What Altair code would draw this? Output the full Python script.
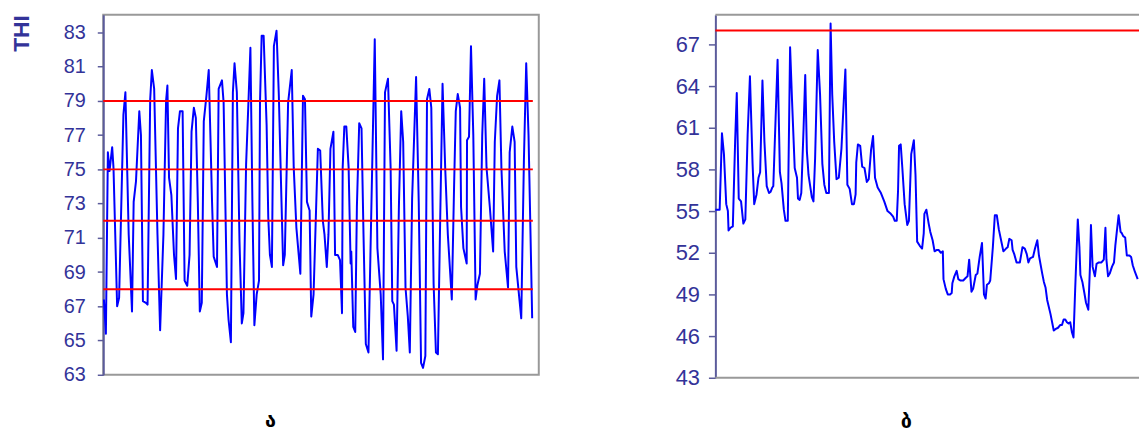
import altair as alt
import pandas as pd

# ---------------- data ----------------
# Panel "ა": THI time series (t = observation time index), thresholds
left_t = [2, 8, 14, 19, 27, 31, 42, 48, 61, 67,
          77, 87, 92, 99, 109, 114, 120, 129, 134, 142,
          147, 154, 164, 172, 182, 190, 194, 199, 206, 214,
          220, 226, 232, 240, 246, 254, 261, 267, 274, 280,
          286, 292, 298, 304, 312, 319, 324, 329, 334, 344,
          349, 359, 364, 374, 379, 386, 392, 397, 404, 412,
          419, 424, 432, 439, 445, 451, 457, 464, 471, 474,
          479, 485, 494, 499, 504, 510, 516, 524, 531, 539,
          544, 549, 559, 570, 576, 584, 596, 604, 610, 616,
          624, 629, 636, 649, 656, 664, 669, 676, 681, 687,
          696, 701, 709, 716, 722, 724, 729, 735, 742, 748,
          750, 756, 762, 767, 774, 781, 787, 794, 802, 821,
          829, 839, 846, 852, 861, 869, 874, 879, 887, 894,
          901, 907, 914, 921, 927, 934, 946, 954, 961, 967,
          974, 979, 986, 992, 999, 1006, 1012, 1019, 1026, 1034,
          1042, 1054, 1061, 1066, 1072, 1079, 1082, 1089, 1099, 1100,
          1106, 1112, 1119, 1126, 1131, 1139, 1146, 1152, 1159, 1169,
          1179, 1184, 1191, 1198, 1204, 1214, 1224, 1229, 1237, 1244,
          1249, 1259, 1264, 1272, 1279, 1286, 1292, 1297]
left_thi = [67.4, 65.4, 76.0, 74.9, 76.3, 75.1, 67.0, 67.5, 78.2, 79.5,
            71.2, 66.7, 73.1, 74.3, 78.4, 77.0, 67.3, 67.2, 67.1, 79.1,
            80.8, 79.7, 71.2, 65.6, 71.2, 79.0, 79.9, 74.5, 73.5, 70.0,
            68.6, 77.4, 78.4, 78.4, 68.5, 68.2, 70.0, 77.2, 78.6, 78.0,
            73.1, 66.7, 67.2, 77.8, 79.3, 80.8, 77.0, 73.1, 69.9, 69.3,
            79.7, 80.2, 78.9, 67.7, 66.2, 64.9, 79.5, 81.2, 79.5, 70.8,
            66.0, 66.6, 75.3, 78.9, 82.1, 73.1, 65.9, 67.7, 68.5, 78.9,
            82.8, 82.8, 77.6, 72.2, 70.0, 69.3, 82.2, 83.1, 79.3, 73.1,
            69.4, 70.0, 78.9, 80.8, 75.1, 71.6, 68.9, 79.3, 79.1, 73.1,
            72.6, 66.4, 67.7, 76.2, 76.1, 72.0, 71.2, 69.3, 71.2, 76.2,
            77.2, 70.0, 70.0, 69.7, 66.6, 75.1, 77.5, 77.5, 75.1, 69.5,
            70.2, 65.8, 65.5, 72.8, 77.7, 77.4, 71.2, 64.8, 64.3, 82.6,
            70.4, 67.7, 63.9, 79.5, 80.3, 75.1, 67.3, 67.1, 64.4, 72.8,
            78.4, 76.6, 68.1, 66.4, 64.3, 73.3, 80.4, 73.1, 63.7, 63.4,
            64.1, 79.1, 79.7, 78.6, 68.3, 64.3, 64.2, 72.2, 80.0, 75.1,
            71.2, 67.4, 74.1, 78.4, 79.4, 78.6, 72.8, 70.4, 69.5, 76.7,
            76.9, 82.2, 77.0, 67.4, 68.2, 68.9, 77.0, 80.3, 75.1, 72.8,
            70.2, 76.6, 79.3, 80.2, 75.1, 70.2, 68.1, 76.0, 77.5, 76.6,
            69.3, 67.3, 66.3, 75.5, 81.2, 77.0, 71.2, 66.3]
left_thresholds = [68, 72, 75, 79]
left_ticks = [63, 65, 67, 69, 71, 73, 75, 77, 79, 81, 83]

# Panel "ბ"
right_t = [0, 8, 13, 20, 26, 33, 38, 40, 46, 53,
           60, 65, 71, 78, 85, 91, 98, 105, 113, 118,
           125, 131, 136, 143, 149, 156, 163, 168, 173, 176,
           183, 189, 196, 201, 208, 213, 220, 227, 233, 241,
           248, 251, 256, 261, 268, 273, 278, 283, 293, 298,
           303, 311, 318, 325, 331, 337, 345, 350, 355, 361,
           368, 375, 383, 390, 395, 401, 408, 415, 421, 426,
           428, 433, 440, 446, 453, 460, 466, 473, 479, 485,
           493, 503, 513, 523, 533, 540, 545, 551, 555, 558,
           563, 568, 575, 583, 588, 595, 603, 608, 613, 621,
           628, 633, 635, 641, 648, 653, 660, 666, 673, 678,
           685, 691, 693, 700, 706, 713, 718, 720, 726, 733,
           738, 745, 753, 761, 766, 771, 778, 783, 791, 796,
           803, 810, 816, 821, 825, 831, 835, 843, 849, 855,
           861, 868, 875, 883, 888, 893, 900, 903, 908, 915,
           925, 933, 940, 946, 951, 956, 965, 971, 978, 983,
           993, 998, 1003, 1008, 1018, 1028, 1033, 1041, 1048, 1053,
           1058, 1063, 1068, 1073, 1078, 1083, 1088, 1093, 1101, 1106,
           1109, 1115, 1121, 1126, 1133, 1138, 1141, 1146, 1153, 1158,
           1165, 1173, 1180, 1185, 1188, 1193, 1198, 1205, 1211, 1215,
           1219, 1225, 1231, 1235, 1239, 1245, 1250, 1258, 1263, 1268,
           1275, 1283]
right_thi = [55.1, 55.1, 55.1, 60.6, 59.1, 55.5, 55.0, 53.6, 53.8, 53.9,
             60.0, 63.5, 55.9, 55.7, 54.1, 54.4, 60.5, 64.7, 58.4, 55.5,
             56.2, 57.4, 57.8, 64.4, 60.0, 56.8, 56.3, 56.4, 56.7, 56.8,
             61.7, 65.9, 57.8, 57.0, 55.1, 54.3, 54.3, 66.8, 62.9, 58.1,
             57.4, 55.9, 55.8, 56.3, 61.0, 64.8, 59.3, 57.6, 56.0, 55.7,
             58.8, 66.6, 63.4, 58.4, 56.9, 56.3, 56.3, 68.5, 63.4, 60.0,
             57.3, 57.4, 59.5, 62.9, 65.2, 56.9, 56.6, 55.5, 55.5, 56.2,
             58.5, 59.8, 59.7, 58.2, 58.1, 57.1, 57.3, 59.4, 60.4, 57.4,
             56.7, 56.3, 55.7, 55.0, 54.8, 54.6, 54.3, 54.3, 56.5, 59.7,
             59.8, 58.1, 55.5, 54.0, 54.3, 59.1, 60.1, 57.6, 52.8, 52.5,
             52.3, 53.4, 54.8, 55.1, 54.1, 53.5, 52.9, 52.1, 52.2, 52.2,
             52.0, 52.1, 50.1, 49.4, 49.0, 49.0, 49.1, 49.8, 50.3, 50.7,
             50.1, 50.0, 50.0, 50.2, 50.3, 51.5, 49.2, 49.4, 50.4, 50.5,
             51.7, 52.7, 49.0, 48.7, 49.7, 49.8, 50.0, 52.4, 54.7, 54.7,
             53.7, 52.9, 52.1, 52.3, 52.4, 53.0, 52.9, 52.2, 51.9, 51.3,
             51.3, 52.4, 52.3, 51.9, 51.3, 51.6, 51.7, 52.3, 52.9, 51.8,
             50.5, 49.9, 49.5, 48.6, 47.6, 46.4, 46.5, 46.6, 46.8, 46.8,
             47.2, 47.2, 47.0, 46.9, 47.0, 46.3, 45.9, 49.3, 54.4, 52.4,
             50.4, 49.9, 49.1, 48.4, 47.9, 51.0, 54.0, 51.0, 50.3, 51.2,
             51.3, 51.3, 51.5, 53.8, 51.5, 50.3, 50.5, 51.0, 51.3, 52.5,
             53.4, 54.7, 53.5, 53.4, 53.2, 53.1, 51.8, 51.8, 51.7, 51.1,
             50.6, 50.1]
right_thresholds = [68]
right_ticks = [43, 46, 49, 52, 55, 58, 61, 64, 67]

panel_labels = ["ა", "ბ"]

assert len(left_t) == len(left_thi)
assert len(right_t) == len(right_thi)

# ---------------- styles ----------------
NAVY = "#333399"
AXIS_LINE = "#5b5b9b"
BORDER = "#999999"
BLUE = "#0000ff"
RED = "#ff0000"
FONT = "Liberation Sans"

LW, LH = 439, 363
RW, RH = 427, 366

left_df = pd.DataFrame({"t": left_t, "thi": left_thi})
right_df = pd.DataFrame({"t": right_t, "thi": right_thi})
left_thr = pd.DataFrame({"thi": left_thresholds})
right_thr = pd.DataFrame({"thi": right_thresholds})
one = pd.DataFrame({"k": [0]})


def y_axis(ticks, label_size, tick_size, label_pad, title=None):
    kw = dict(values=ticks, grid=False, domainColor=AXIS_LINE, domainWidth=2,
              tickColor=AXIS_LINE, tickWidth=1.5, tickSize=tick_size,
              labelFont=FONT, labelFontSize=label_size, labelColor=NAVY,
              labelPadding=label_pad, labelOverlap=False, labelBound=False)
    if title:
        kw.update(title=title, titleFont=FONT, titleFontSize=23,
                  titleFontWeight="bold", titleColor=NAVY, titleAnchor="end",
                  titlePadding=30)
    else:
        kw.update(title=None)
    return alt.Axis(**kw)


def bottom_title(text, dx, offset):
    return alt.TitleParams(text=text, orient="bottom", anchor="middle",
                           frame="group", dx=dx, offset=offset,
                           baseline="alphabetic", font="DejaVu Sans",
                           fontSize=20, fontWeight="bold", color="black")


# ----- left panel -----
left_axis = y_axis(left_ticks, 20, 6, 12, "THI")
lx = alt.X("t:Q", scale=alt.Scale(domain=[0, 1317], nice=False, zero=False), axis=None)
lys = alt.Scale(domain=[63, 84.04], nice=False, zero=False)
left_line = alt.Chart(left_df).mark_line(color=BLUE, strokeWidth=2, strokeJoin="round").encode(
    x=lx, y=alt.Y("thi:Q", scale=lys, axis=left_axis))
left_rules = alt.Chart(left_thr).mark_rule(color=RED, strokeWidth=2).encode(
    y=alt.Y("thi:Q", scale=lys, axis=left_axis), x=alt.value(0), x2=alt.value(433))
left = alt.layer(left_line, left_rules).properties(
    width=LW, height=LH, title=bottom_title(panel_labels[0], -51, 43))

# ----- right panel -----
right_axis = y_axis(right_ticks, 22, 7, 9)
rx = alt.X("t:Q", scale=alt.Scale(domain=[0, 1287], nice=False, zero=False), axis=None)
rys = alt.Scale(domain=[43, 69.143], nice=False, zero=False)
right_line = alt.Chart(right_df).mark_line(color=BLUE, strokeWidth=2, strokeJoin="round").encode(
    x=rx, y=alt.Y("thi:Q", scale=rys, axis=right_axis))
right_rules = alt.Chart(right_thr).mark_rule(color=RED, strokeWidth=2).encode(
    y=alt.Y("thi:Q", scale=rys, axis=right_axis), x=alt.value(0), x2=alt.value(RW))
right_top = alt.Chart(one).mark_rule(color=BORDER, strokeWidth=2).encode(
    x=alt.value(0), x2=alt.value(RW), y=alt.value(0))
right_bottom = alt.Chart(one).mark_rule(color=BORDER, strokeWidth=2).encode(
    x=alt.value(0), x2=alt.value(RW), y=alt.value(RH))
right = alt.layer(right_line, right_rules, right_top, right_bottom).properties(
    width=RW, height=RH,
    view=alt.ViewBackground(stroke="transparent", strokeWidth=0),
    title=bottom_title(panel_labels[1], -21, 40))

chart = alt.hconcat(left, right, spacing=136).properties(
    padding={"left": 1, "top": 3, "right": 0, "bottom": 0},
    background="white",
).configure_view(stroke=BORDER, strokeWidth=2)

chart.save("out.html", embed_options={"renderer": "svg", "actions": False})
